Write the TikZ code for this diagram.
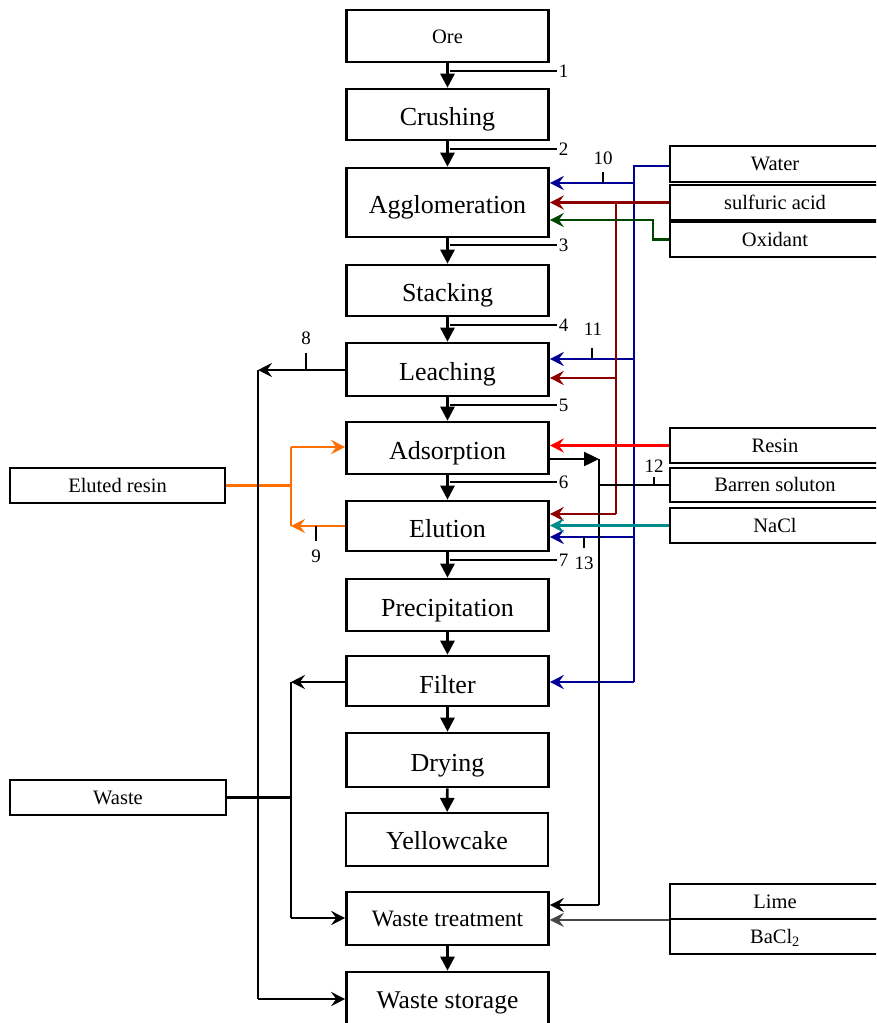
\documentclass[tikz,border=0pt]{standalone}
\usepackage{fontspec}
\setmainfont{Liberation Serif}
\usetikzlibrary{arrows.meta}
\definecolor{wblue}{RGB}{0,0,150}
\definecolor{acidred}{RGB}{140,0,0}
\definecolor{oxgreen}{RGB}{0,70,0}
\definecolor{resred}{RGB}{255,0,0}
\definecolor{nateal}{RGB}{0,140,140}
\definecolor{orng}{RGB}{255,110,0}
\definecolor{limegray}{RGB}{70,70,70}
\begin{document}
\begin{tikzpicture}[x=1pt,y=-1pt,
 mainbox/.style={draw,line width=2.6pt,minimum width=202pt,inner sep=0pt,font=\fontsize{26}{30}\selectfont,text height=22.2pt,text depth=0pt},
 sidebox/.style={draw,line width=1.9pt,minimum width=210pt,minimum height=35pt,inner sep=0pt,font=\fontsize{20.5}{24}\selectfont,text height=13.6pt,text depth=0pt},
 flow/.style={line width=2.6pt,-{Triangle[length=14pt,width=14pt]}},
 feed/.style={line width=2.4pt,-{Stealth[length=14pt,width=14pt,inset=5pt]}},
 pipe/.style={line width=2.4pt},
 tickline/.style={line width=1.7pt},
 lbl/.style={font=\fontsize{19}{22}\selectfont,inner sep=0pt}
]
\clip (0,0) rectangle (876,1023);
% main column
\node[mainbox,minimum height=52pt,font=\fontsize{20.5}{24}\selectfont,text height=14.6pt] (ore) at (447.5,36) {Ore};
\node[mainbox,minimum height=51pt] (crush) at (447.5,114.5) {Crushing};
\node[mainbox,minimum height=69pt] (agg) at (447.5,202.5) {Agglomeration};
\node[mainbox,minimum height=51pt] (stack) at (447.5,290.5) {Stacking};
\node[mainbox,minimum height=53pt] (leach) at (447.5,369.5) {Leaching};
\node[mainbox,minimum height=52pt] (ads) at (447.5,448) {Adsorption};
\node[mainbox,minimum height=50pt] (elu) at (447.5,526) {Elution};
\node[mainbox,minimum height=52pt] (prec) at (447.5,605) {Precipitation};
\node[mainbox,minimum height=50pt,text height=24.2pt] (filt) at (447.5,681) {Filter};
\node[mainbox,minimum height=54pt] (dry) at (447.5,760) {Drying};
\node[mainbox,minimum height=53pt,line width=2.1pt,text height=19.2pt] (yel) at (447,839.5) {Yellowcake};
\node[mainbox,minimum height=53pt,font=\fontsize{23.5}{27}\selectfont,text height=16.6pt] (wt) at (447.5,918.5) {Waste treatment};
\node[mainbox,minimum height=56pt,font=\fontsize{25.5}{29}\selectfont,text height=16.9pt] (ws) at (447.5,1000) {Waste storage};
% side boxes
\node[sidebox,minimum height=36pt] (water) at (775,164) {Water};
\node[sidebox] (acid) at (775,202.5) {sulfuric acid};
\node[sidebox] (oxid) at (775,239.5) {Oxidant};
\node[sidebox] (resin) at (775,445.5) {Resin};
\node[sidebox,minimum height=34pt] (barren) at (775,485) {Barren soluton};
\node[sidebox] (nacl) at (775,525.5) {NaCl};
\node[sidebox] (lime) at (775,901.5) {Lime};
\node[sidebox] (bacl) at (775,936.5) {BaCl\textsubscript{2}};
\node[sidebox,minimum width=215pt] (eluted) at (117.5,485.5) {Eluted resin};
\node[sidebox,minimum width=216pt] (waste) at (118,797.5) {Waste};
% main flow
\draw[flow] (ore) -- (crush);
\draw[flow] (crush) -- (agg);
\draw[flow] (agg) -- (stack);
\draw[flow] (stack) -- (leach);
\draw[flow] (leach) -- (ads);
\draw[flow] (ads) -- (elu);
\draw[flow] (elu) -- (prec);
\draw[flow] (prec) -- (filt);
\draw[flow] (filt) -- (dry);
\draw[flow] (dry) -- (yel);
\draw[flow] (wt) -- (ws);
% stream labels
\draw[tickline] (450,71) -- (557,71) node[lbl,anchor=west,xshift=1pt] {1};
\draw[tickline] (450,149) -- (557,149) node[lbl,anchor=west,xshift=1pt] {2};
\draw[tickline] (450,245) -- (557,245) node[lbl,anchor=west,xshift=1pt] {3};
\draw[tickline] (450,325) -- (557,325) node[lbl,anchor=west,xshift=1pt] {4};
\draw[tickline] (450,405) -- (557,405) node[lbl,anchor=west,xshift=1pt] {5};
\draw[tickline] (450,482) -- (557,482) node[lbl,anchor=west,xshift=1pt] {6};
\draw[tickline] (450,560) -- (557,560) node[lbl,anchor=west,xshift=1pt] {7};
% blue water
\coordinate (bTop) at (634,166);
\coordinate (bAgg) at (634,183);
\coordinate (bLea) at (634,359);
\coordinate (bElu) at (634,537);
\coordinate (bFil) at (634,682);
\draw[pipe,wblue] (water.west |- bTop) -- (bTop) -- (bFil);
\draw[feed,wblue] (bFil) -- (filt.east |- bFil);
\draw[feed,wblue] (bAgg) -- (agg.east |- bAgg);
\draw[feed,wblue] (bLea) -- (leach.east |- bLea);
\draw[feed,wblue] (bElu) -- (elu.east |- bElu);
% dark red acid
\coordinate (rTop) at (616,202.5);
\coordinate (rLea) at (616,378);
\coordinate (rElu) at (616,514);
\draw[pipe,acidred] (rTop) -- (rElu);
\draw[feed,acidred] (acid.west) -- (agg.east |- acid.west);
\draw[feed,acidred] (rLea) -- (leach.east |- rLea);
\draw[feed,acidred] (rElu) -- (elu.east |- rElu);
% green oxidant
\coordinate (gK) at (653,220);
\draw[feed,oxgreen] (oxid.west) -| (gK) -- (agg.east |- gK);
% black barren / adsorption to waste treatment
\coordinate (kTop) at (599,459);
\coordinate (kBot) at (599,905);
\draw[pipe] (kTop) -- (kBot);
\draw[pipe] (barren.west) -- (kTop |- barren.west);
\draw[line width=2.4pt,-{Triangle[length=15pt,width=14pt]}] (ads.east |- kTop) -- (kTop);
\draw[feed] (kBot) -- (wt.east |- kBot);
% resin, NaCl, lime
\draw[feed,resred] (resin.west) -- (ads.east |- resin.west);
\draw[feed,nateal] (nacl.west) -- (elu.east |- nacl.west);
\draw[feed,limegray] (lime.south west) -- (wt.east |- lime.south west);
% orange eluted resin
\coordinate (oJ) at (291,485.5);
\coordinate (oT) at (291,447);
\coordinate (oB) at (291,526);
\draw[pipe,orng] (eluted.east) -- (oJ);
\draw[pipe,orng] (oT) -- (oB);
\draw[feed,orng] (oT) -- (ads.west |- oT);
\draw[feed,orng] (elu.west |- oB) -- (oB);
% left black lines
\coordinate (lT) at (258,370);
\coordinate (lB) at (258,999);
\draw[pipe] (lT) -- (lB);
\draw[feed] (leach.west |- lT) -- (lT);
\draw[feed] (lB) -- (ws.west |- lB);
\coordinate (wT) at (291,682);
\coordinate (wB) at (291,918);
\coordinate (wJ) at (291,797.5);
\draw[pipe] (waste.east) -- (wJ);
\draw[pipe] (wT) -- (wB);
\draw[feed] (filt.west |- wT) -- (wT);
\draw[feed] (wB) -- (wt.west |- wB);
% ticks and numbers
\draw[tickline] (306,353) -- (306,370); \node[lbl] (n8) at (306,338) {8};
\draw[tickline] (316,526) -- (316,541); \node[lbl] (n9) at (316,556) {9};
\draw[tickline] (603,172) -- (603,183); \node[lbl] (n10) at (603,158) {10};
\draw[tickline] (592,348) -- (592,359); \node[lbl] (n11) at (593,329) {11};
\draw[tickline] (654,477) -- (654,485); \node[lbl] (n12) at (654,466) {12};
\draw[tickline] (584,537) -- (584,548); \node[lbl] (n13) at (584,563) {13};
\end{tikzpicture}
\end{document}
